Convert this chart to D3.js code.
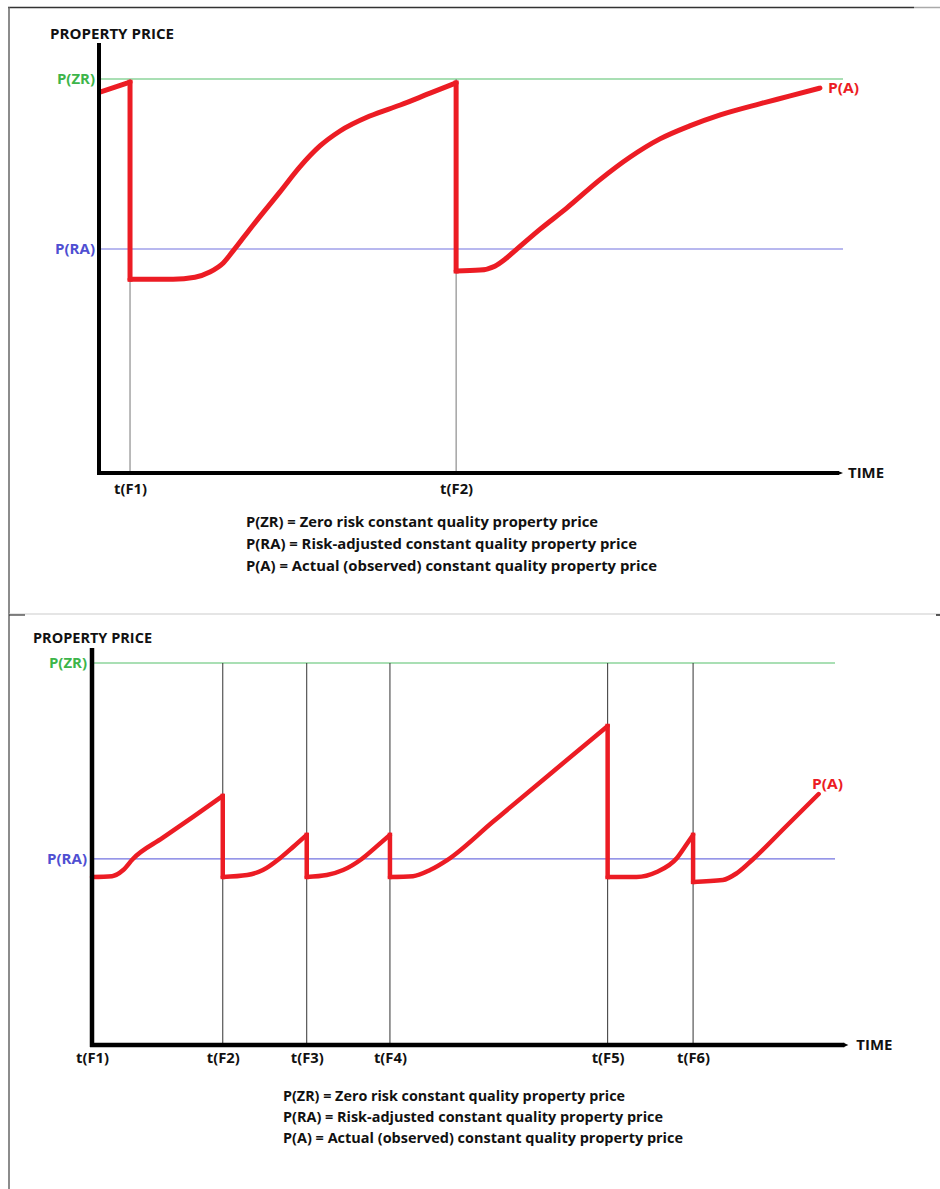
<!DOCTYPE html>
<html>
<head>
<meta charset="utf-8">
<script src="https://cdn.jsdelivr.net/npm/d3@7"></script>
<style>
  html, body { margin: 0; padding: 0; background: #fff; }
  svg { display: block; }
  text { font-family: "Open Sans", "DejaVu Sans", sans-serif; font-weight: 700; }
</style>
</head>
<body>
<svg id="chart" width="940" height="1189"></svg>
<script>
// ---------------- DATA ----------------
// Panel 1 (top): time units 0..100 along the axis, price units 0..100 (100 = P(ZR))
const topTickLabels = ["t(F1)", "t(F2)"];
const topTickTimes = [4.17, 48.0];
const topPZR = 100;
const topPRA = 56.85;
const topSegments = [
  [[0.13, 96.7], [4.17, 99.2]],
  [[4.17, 49.2], [9.95, 49.2], [12.9, 49.7], [14.9, 51.0], [16.7, 53.3], [18.0, 56.3],
   [20.7, 62.9], [24.3, 71.3], [27.0, 77.7], [29.7, 83.0], [32.4, 86.8], [36.4, 90.6],
   [40.5, 93.4], [44.5, 96.4], [48.0, 99.0]],
  [[48.0, 51.3], [51.2, 51.5], [53.2, 52.5], [54.6, 54.3], [56.2, 56.9], [59.3, 61.9],
   [62.9, 67.3], [67.3, 74.4], [71.4, 80.2], [75.4, 84.8], [79.4, 88.1], [83.5, 90.9],
   [88.8, 93.7], [92.9, 95.7], [96.9, 97.7]]
];

// Panel 2 (bottom)
const botTickLabels = ["t(F1)", "t(F2)", "t(F3)", "t(F4)", "t(F5)", "t(F6)"];
const botTickTimes = [0, 17.6, 28.9, 40.1, 69.4, 80.9];
const botPZR = 100;
const botPRA = 48.7;
const botSegments = [
  [[0, 44.0], [2.7, 44.2], [4.2, 45.8], [5.5, 48.7], [9.5, 54.2], [13.6, 59.7], [17.6, 65.2]],
  [[17.6, 44.0], [20.9, 44.5], [23.0, 45.8], [25.3, 48.9], [27.1, 51.9], [28.9, 55.0]],
  [[28.9, 44.0], [31.6, 44.5], [33.8, 45.8], [36.3, 48.7], [38.2, 51.8], [40.1, 55.0]],
  [[40.1, 44.0], [43.2, 44.2], [45.5, 45.8], [47.8, 48.4], [54.0, 58.5], [61.5, 70.7], [69.4, 83.5]],
  [[69.4, 44.0], [73.3, 44.0], [76.0, 45.3], [78.7, 48.9], [79.8, 51.9], [80.9, 55.0]],
  [[80.9, 42.7], [84.9, 43.2], [86.8, 45.0], [89.0, 48.7], [93.4, 57.2], [97.8, 65.7]]
];

const legendLines = [
  "P(ZR) = Zero risk constant quality property price",
  "P(RA) = Risk-adjusted constant quality property price",
  "P(A) = Actual (observed) constant quality property price"
];
const levelLabels = ["P(ZR)", "P(RA)"];
const seriesLabel = "P(A)";
const yTitle = "PROPERTY PRICE";
const xTitle = "TIME";

// ---------------- STYLE ----------------
const C = {
  red: "#ec1c24",
  greenLine: "#8dd49b",
  greenText: "#3db54a",
  blueLine: "#7373e0",
  blueText: "#4f4fd2",
  axis: "#000"
};

const svg = d3.select("#chart");
svg.append("rect").attr("width", 940).attr("height", 1189).attr("fill", "#fff");

// frame
svg.append("line").attr("x1", 8).attr("x2", 914).attr("y1", 7.5).attr("y2", 7.5).attr("stroke", "#333").attr("stroke-width", 1.5);
svg.append("line").attr("x1", 914).attr("x2", 940).attr("y1", 7.5).attr("y2", 7.5).attr("stroke", "#aaa").attr("stroke-width", 1.5);
svg.append("line").attr("x1", 9).attr("x2", 9).attr("y1", 7).attr("y2", 1189).attr("stroke", "#666").attr("stroke-width", 1.5);
svg.append("line").attr("x1", 9).attr("x2", 940).attr("y1", 614).attr("y2", 614).attr("stroke", "#ccc").attr("stroke-width", 1.2);
svg.append("line").attr("x1", 9).attr("x2", 25).attr("y1", 615).attr("y2", 615).attr("stroke", "#333").attr("stroke-width", 1.2);
svg.append("line").attr("x1", 936).attr("x2", 940).attr("y1", 615).attr("y2", 615).attr("stroke", "#222").attr("stroke-width", 1.5);

function panel(cfg) {
  const g = svg.append("g");
  const x = d3.scaleLinear().domain([0, 100]).range(cfg.xRange);
  const y = d3.scaleLinear().domain([0, 100]).range(cfg.yRange);

  // level lines
  g.append("line").attr("x1", x(0)).attr("x2", x(100)).attr("y1", y(cfg.pzr)).attr("y2", y(cfg.pzr))
    .attr("stroke", C.greenLine).attr("stroke-width", 1.3);
  g.append("line").attr("x1", x(0)).attr("x2", x(100)).attr("y1", y(cfg.pra)).attr("y2", y(cfg.pra))
    .attr("stroke", C.blueLine).attr("stroke-width", 1.2);

  // vertical event lines
  g.selectAll("line.ev").data(cfg.ticks.filter(t => t > 0)).join("line")
    .attr("class", "ev")
    .attr("x1", d => x(d)).attr("x2", d => x(d))
    .attr("y1", y(cfg.pzr)).attr("y2", y(0))
    .attr("stroke", cfg.gridColor).attr("stroke-width", 1);

  // red series
  const line = d3.line().x(d => x(d[0])).y(d => y(d[1])).curve(d3.curveMonotoneX);
  const lin = d3.line().x(d => x(d[0])).y(d => y(d[1]));
  cfg.segments.forEach((seg, i) => {
    g.append("path").attr("d", line(seg)).attr("fill", "none")
      .attr("stroke", C.red).attr("stroke-width", cfg.redWidth)
      .attr("stroke-linecap", "round").attr("stroke-linejoin", "round");
    if (i < cfg.segments.length - 1) {
      const a = seg[seg.length - 1], b = cfg.segments[i + 1][0];
      g.append("path").attr("d", lin([a, b])).attr("fill", "none")
        .attr("stroke", C.red).attr("stroke-width", cfg.redWidth)
        .attr("stroke-linecap", "square");
    }
  });

  // axes (thick black)
  g.append("line").attr("x1", x(0)).attr("x2", x(0)).attr("y1", cfg.yAxisTop).attr("y2", y(0) + 2)
    .attr("stroke", C.axis).attr("stroke-width", cfg.axisWidth);
  g.append("line").attr("x1", x(0) - 2).attr("x2", x(cfg.xAxisEnd) - 4).attr("y1", y(0)).attr("y2", y(0))
    .attr("stroke", C.axis).attr("stroke-width", cfg.axisWidth);
  const xe = x(cfg.xAxisEnd);
  g.append("path").attr("d", `M${xe - 5},${y(0) - cfg.axisWidth / 2}L${xe},${y(0)}L${xe - 5},${y(0) + cfg.axisWidth / 2}Z`)
    .attr("fill", C.axis);

  // tick labels via d3 axis
  const ax = d3.axisBottom(x).tickValues(cfg.ticks)
    .tickFormat((d, i) => cfg.tickLabels[i]).tickSize(0).tickPadding(0);
  const axG = g.append("g").attr("transform", `translate(0,${y(0) + cfg.tickOffset})`).call(ax);
  axG.select(".domain").remove();
  axG.selectAll("text").attr("font-size", 14).attr("fill", "#111")
    .attr("font-family", "'Open Sans', sans-serif").attr("font-weight", 700)
    .attr("textLength", 33).attr("lengthAdjust", "spacingAndGlyphs");

  // y level labels via d3 axis
  const ay = d3.axisLeft(y).tickValues([cfg.pzr, cfg.pra])
    .tickFormat((d, i) => levelLabels[i]).tickSize(0).tickPadding(0);
  const ayG = g.append("g").attr("transform", `translate(${cfg.yLabelRight},0)`).call(ay);
  ayG.select(".domain").remove();
  ayG.selectAll("text").attr("font-size", 14).attr("font-weight", 700)
    .attr("font-family", "'Open Sans', sans-serif")
    .attr("textLength", (d, i) => i === 0 ? 38 : 40).attr("lengthAdjust", "spacingAndGlyphs")
    .attr("fill", (d, i) => i === 0 ? C.greenText : C.blueText);

  // titles
  g.append("text").attr("x", cfg.yTitlePos[0]).attr("y", cfg.yTitlePos[1])
    .attr("font-size", 13.5).attr("fill", "#111").attr("textLength", cfg.yTitleLen)
    .attr("lengthAdjust", "spacingAndGlyphs").text(yTitle);
  g.append("text").attr("x", xe + cfg.timeGap).attr("y", y(0)).attr("dy", "0.35em")
    .attr("font-size", 13.5).attr("fill", "#111").attr("textLength", 36)
    .attr("lengthAdjust", "spacingAndGlyphs").text(xTitle);

  // series label
  g.append("text").attr("x", cfg.paPos[0]).attr("y", cfg.paPos[1]).attr("dy", "0.35em")
    .attr("font-size", 14).attr("fill", C.red).attr("textLength", 31)
    .attr("lengthAdjust", "spacingAndGlyphs").text(seriesLabel);

  // legend
  g.selectAll("text.leg").data(legendLines).join("text").attr("class", "leg")
    .attr("x", cfg.legend.x).attr("y", (d, i) => cfg.legend.y + i * cfg.legend.dy)
    .attr("font-size", cfg.legend.size).attr("fill", "#111")
    .attr("textLength", (d, i) => cfg.legend.widths[i])
    .attr("lengthAdjust", "spacingAndGlyphs")
    .text(d => d);
}

panel({
  xRange: [99, 843], yRange: [473, 79],
  pzr: topPZR, pra: topPRA,
  ticks: topTickTimes, tickLabels: topTickLabels,
  segments: topSegments,
  gridColor: "#777", redWidth: 5, axisWidth: 4,
  yAxisTop: 43, xAxisEnd: 100, timeGap: 5, tickOffset: 11,
  yLabelRight: 95,
  yTitlePos: [50, 39], yTitleLen: 124,
  paPos: [828, 88],
  legend: { x: 246, y: 527, dy: 22, size: 14, widths: [352, 391, 411] }
});

panel({
  xRange: [92, 835], yRange: [1045, 663],
  pzr: botPZR, pra: botPRA,
  ticks: botTickTimes, tickLabels: botTickLabels,
  segments: botSegments,
  gridColor: "#333", redWidth: 4.5, axisWidth: 4.5,
  yAxisTop: 648, xAxisEnd: 101.8, timeGap: 8, tickOffset: 8,
  yLabelRight: 87,
  yTitlePos: [33, 643], yTitleLen: 119,
  paPos: [812, 784],
  legend: { x: 283, y: 1101, dy: 21, size: 13.5, widths: [342, 380, 400] }
});
</script>
</body>
</html>
